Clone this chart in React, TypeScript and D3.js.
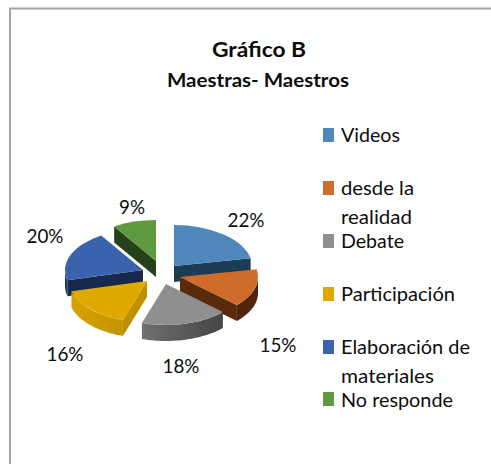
import React from "react";
import * as d3 from "d3";

const categories = ["Videos", "desde la realidad", "Debate", "Participación", "Elaboración de materiales", "No responde"];
const values = [22, 15, 18, 16, 20, 9];
const percentLabels = ["22%", "15%", "18%", "16%", "20%", "9%"];
const topColors = ["#4f87ba", "#cf6c2a", "#8f8f8f", "#e0a900", "#3b63ad", "#609a3f"];
const faceColors = ["#1f3a55", "#5a2c10", "#555555", "#c09000", "#14294f", "#27411b"];
const wallLight = ["#1f3a55", "#5f2f11", "#8c8c8c", "#d8a300", "#1b3360", "#27411b"];
const wallDark = ["#1f3a55", "#4f260d", "#3a3a3a", "#a07a00", "#14294f", "#27411b"];

const R = 78;
const K = 0.525;
const DEPTH = 16;
// where each exploded slice's apex sits on the page
const apexX = [174, 180, 166, 147, 143, 156];
const apexY = [266, 277, 284, 281, 270, 261];
const drawOrder = [5, 4, 0, 3, 1, 2];

const labelX = [246, 278, 181, 65, 45, 132];
const labelY = [227, 352, 373, 361, 243, 214];

const legendRows = [
  { swatch: 0, y: 128, lines: [["Videos", 142, 59]] },
  { swatch: 1, y: 181, lines: [["desde la", 195, 73], ["realidad", 224, 71]] },
  { swatch: 2, y: 234, lines: [["Debate", 248, 63]] },
  { swatch: 3, y: 287, lines: [["Participación", 301, 114]] },
  { swatch: 4, y: 340, lines: [["Elaboración de", 354, 129], ["materiales", 383, 93]] },
  { swatch: 5, y: 392, lines: [["No responde", 407, 112]] },
] as const;

const FONT = "Lato, 'Open Sans', sans-serif";
const HALF = Math.PI / 2;

const pieGen = d3.pie<number>().sort(null).value((d) => d);
const arcGen = d3.arc<d3.PieArcDatum<number>>().innerRadius(0).outerRadius(R);
const outline = d3.line<[number, number]>();

function rim(a: number): [number, number] {
  return [Math.sin(a) * R, -Math.cos(a) * R * K];
}

function wallPath(start: number, end: number) {
  const a0 = Math.max(start, HALF);
  const a1 = Math.min(end, 3 * HALF);
  if (a1 <= a0) return null;
  const t = d3.scaleLinear().domain([0, 40]).range([a0, a1]);
  const topEdge = d3.range(41).map((i) => rim(t(i)));
  const bottomEdge = topEdge.map(([x, y]) => [x, y + DEPTH] as [number, number]).reverse();
  return outline([...topEdge, ...bottomEdge]) + "Z";
}

function facePath(a: number) {
  const [x, y] = rim(a);
  return outline([[0, 0], [x, y], [x, y + DEPTH], [0, DEPTH]]) + "Z";
}

export default function App() {
  const slices = pieGen(values);
  return (
    <svg width={491} height={464} style={{ position: "absolute", left: 0, top: 0, display: "block" }}>
      <rect width={491} height={464} fill="#ffffff" />
      <path d="M10,464V8.5H491" fill="none" stroke="#a3a3a3" strokeWidth={2} />
      <defs>
        <filter id="soft" x="-5%" y="-5%" width="110%" height="110%">
          <feGaussianBlur stdDeviation={0.45} />
        </filter>
        {slices.map((s, i) => (
          <linearGradient key={i} id={`wall${i}`} gradientUnits="userSpaceOnUse" x1={-R} x2={R} y1={0} y2={0}>
            <stop offset="0%" stopColor={wallLight[i]} />
            <stop offset="100%" stopColor={wallDark[i]} />
          </linearGradient>
        ))}
      </defs>
      <g filter="url(#soft)">
        {drawOrder.map((i) => {
          const s = slices[i];
          const wall = wallPath(s.startAngle, s.endAngle);
          const faces: string[] = [];
          if (Math.sin(s.endAngle) > 0.001) faces.push(facePath(s.endAngle));
          if (Math.sin(s.startAngle) < -0.001) faces.push(facePath(s.startAngle));
          return (
            <g key={i} transform={`translate(${apexX[i]},${apexY[i]})`}>
              {faces.map((d, j) => (
                <path key={j} d={d} fill={faceColors[i]} />
              ))}
              {wall && <path d={wall} fill={`url(#wall${i})`} />}
              <g transform={`scale(1,${K})`}>
                <path d={arcGen(s) ?? ""} fill={topColors[i]} />
              </g>
            </g>
          );
        })}
      </g>
      <g fontFamily={FONT} fill="#0c0c0c">
        <text x={259} y={57} textAnchor="middle" fontSize={21} fontWeight={700} textLength={94} lengthAdjust="spacingAndGlyphs">
          Gráfico B
        </text>
        <text x={258} y={87} textAnchor="middle" fontSize={18} fontWeight={700} textLength={182} lengthAdjust="spacingAndGlyphs">
          Maestras- Maestros
        </text>
        {percentLabels.map((t, i) => (
          <text key={t} x={labelX[i]} y={labelY[i]} textAnchor="middle" fontSize={19} textLength={t.length === 3 ? 37 : 26} lengthAdjust="spacingAndGlyphs">
            {t}
          </text>
        ))}
        {legendRows.map((row) => (
          <g key={row.swatch}>
            <rect x={323} y={row.y} width={11} height={14} fill={topColors[row.swatch]}>
              <title>{categories[row.swatch]}</title>
            </rect>
            {row.lines.map(([t, y, w]) => (
              <text key={t} x={341} y={y} fontSize={19} textLength={w} lengthAdjust="spacingAndGlyphs">
                {t}
              </text>
            ))}
          </g>
        ))}
      </g>
    </svg>
  );
}
